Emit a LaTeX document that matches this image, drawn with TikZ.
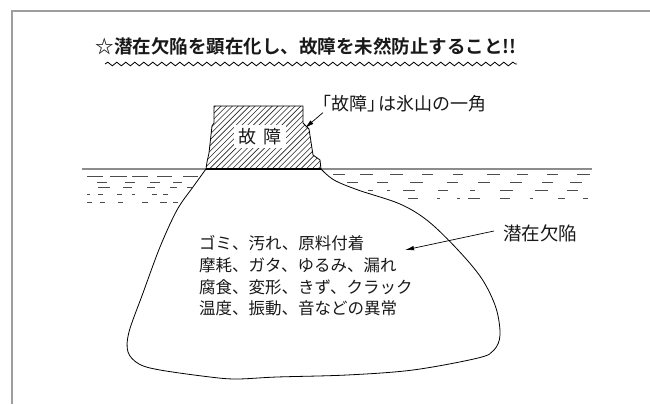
\documentclass[tikz,border=0pt]{standalone}
\usepackage{fontspec}
\newfontfamily\jp[BoldFont={Noto Sans CJK JP Bold}]{Noto Sans CJK JP}
\usetikzlibrary{arrows.meta,decorations.pathmorphing}

\begin{document}
\begin{tikzpicture}[x=1pt,y=-1pt,
  outline/.style={line width=0.8pt, line join=round},
  hatch/.style={line width=0.6pt, draw=black!85},
  pointer/.style={line width=0.7pt, -{Latex[length=9pt,width=4.5pt]}},
  watersurf/.style={draw=black!45, line width=1.4pt},
  ripple/.style={line width=0.9pt, draw=black!70},
  frameline/.style={draw=black!38, line width=2pt},
  wavy/.style={line width=0.8pt, decorate,
    decoration={snake, segment length=9pt, amplitude=1.8pt}},
  every node/.style={text=black!90}]

\useasboundingbox (0,0) rectangle (650,404);
\fill[white] (0,0) rectangle (650,404);

% page frame
\draw[frameline] (12,404) -- (12,11) -- (650,11);

% heading with wavy underline
\node[inner sep=0, font={\jp\bfseries\fontsize{18.5}{21}\selectfont}] (title) at (306,46)
  {☆潜在欠陥を顕在化し、故障を未然防止すること!!};
\coordinate (waveL) at (105,64);
\coordinate (waveR) at (517,64);
\draw[wavy] (waveL) -- (waveR);

% sea surface
\draw[watersurf] (82,169) -- (592,169);

% ripples, left side
\foreach \y/\segs in {
  176/{87/103,110/127,132/148,157/172,183/198},
  182/{97/107,125/135,150/160,173/182},
  187/{98/110,123/132,147/155,170/177,187/192},
  194/{87/90,98/103,117/122,132/135,152/157,163/168},
  202/{87/92,100/105,118/123,142/148,160/167,173/178}}
  \foreach \a/\b in \segs \draw[ripple] (\a,\y) -- (\b,\y);

% ripples, right side
\foreach \y/\segs in {
  174/{333/345,360/373,390/403,422/433,453/463,487/500,517/528,547/558,577/590},
  182/{347/358,377/388,410/423,447/458,478/490,510/522,542/553,570/582},
  190/{368/373,387/390,403/415,438/448,470/475,500/513,535/548,567/578},
  198/{408/418,437/440,457/460,468/480,500/510,530/533,558/565,583/588}}
  \foreach \a/\b in \segs \draw[ripple] (\a,\y) -- (\b,\y);

% submerged body of the iceberg
\draw[outline] plot[smooth, tension=0.55] coordinates {
  (321,169) (334,180) (358,190) (400,204) (428,221) (458,250) (482,279)
  (496,308) (500,335) (494,350) (478,358) (413,370) (347,375) (277,377)
  (237,379) (210,377) (160,370) (139,364) (128,352) (129,332) (143,293)
  (160,247) (177,210) (193,187) (206,169)};

% visible tip of the iceberg, hatched
\begin{scope}
  \clip (206,169) -- (207,162) -- (209,153) -- (212,126) -- (214,123) -- (214,106)
    -- (303,106) -- (303,123) -- (309,129) -- (313,155) -- (320,160) -- (321,169) -- cycle;
  \foreach \x in {140,145.7,...,330} \draw[hatch] (\x,170) -- ++(66,-66);
\end{scope}
\draw[outline]
  (206,169) -- (207,162) -- (209,153) -- (212,126) -- (214,123) -- (214,106)
  -- (303,106) -- (303,123) -- (309,129) -- (313,155) -- (320,160) -- (321,169);
\draw[line width=1.5pt] (206,169) -- (321,169);

\node[fill=white, inner xsep=4pt, inner ysep=3pt,
  font={\jp\fontsize{18}{20}\selectfont}] (fault) at (260,136.5) {故\hspace{8pt}障};

% callout for the tip
\node[anchor=west, inner sep=0, font={\jp\fontsize{18}{20}\selectfont}] (tiplabel) at (313,104)
  {「故障」\kern-0.4em は氷山の一角};
\coordinate (tipA) at (305,128);
\draw[pointer] ([xshift=10pt]tiplabel.south west) -- (tipA);

% callout for the submerged part
\node[anchor=west, inner xsep=9pt, inner ysep=0, font={\jp\fontsize{18.5}{20}\selectfont}] (latent) at (494,233)
  {潜在欠陥};
\coordinate (tipB) at (405,250);
\draw[pointer] ([yshift=2pt]latent.west) -- (tipB);

% list of latent defects
\node[anchor=west, inner sep=0, align=left, font={\jp\fontsize{16.5}{21.7}\selectfont}] (defects) at (199,276)
  {ゴミ、汚れ、原料付着\\摩耗、ガタ、ゆるみ、漏れ\\腐食、変形、きず、クラック\\温度、振動、音などの異常};

\end{tikzpicture}
\end{document}
